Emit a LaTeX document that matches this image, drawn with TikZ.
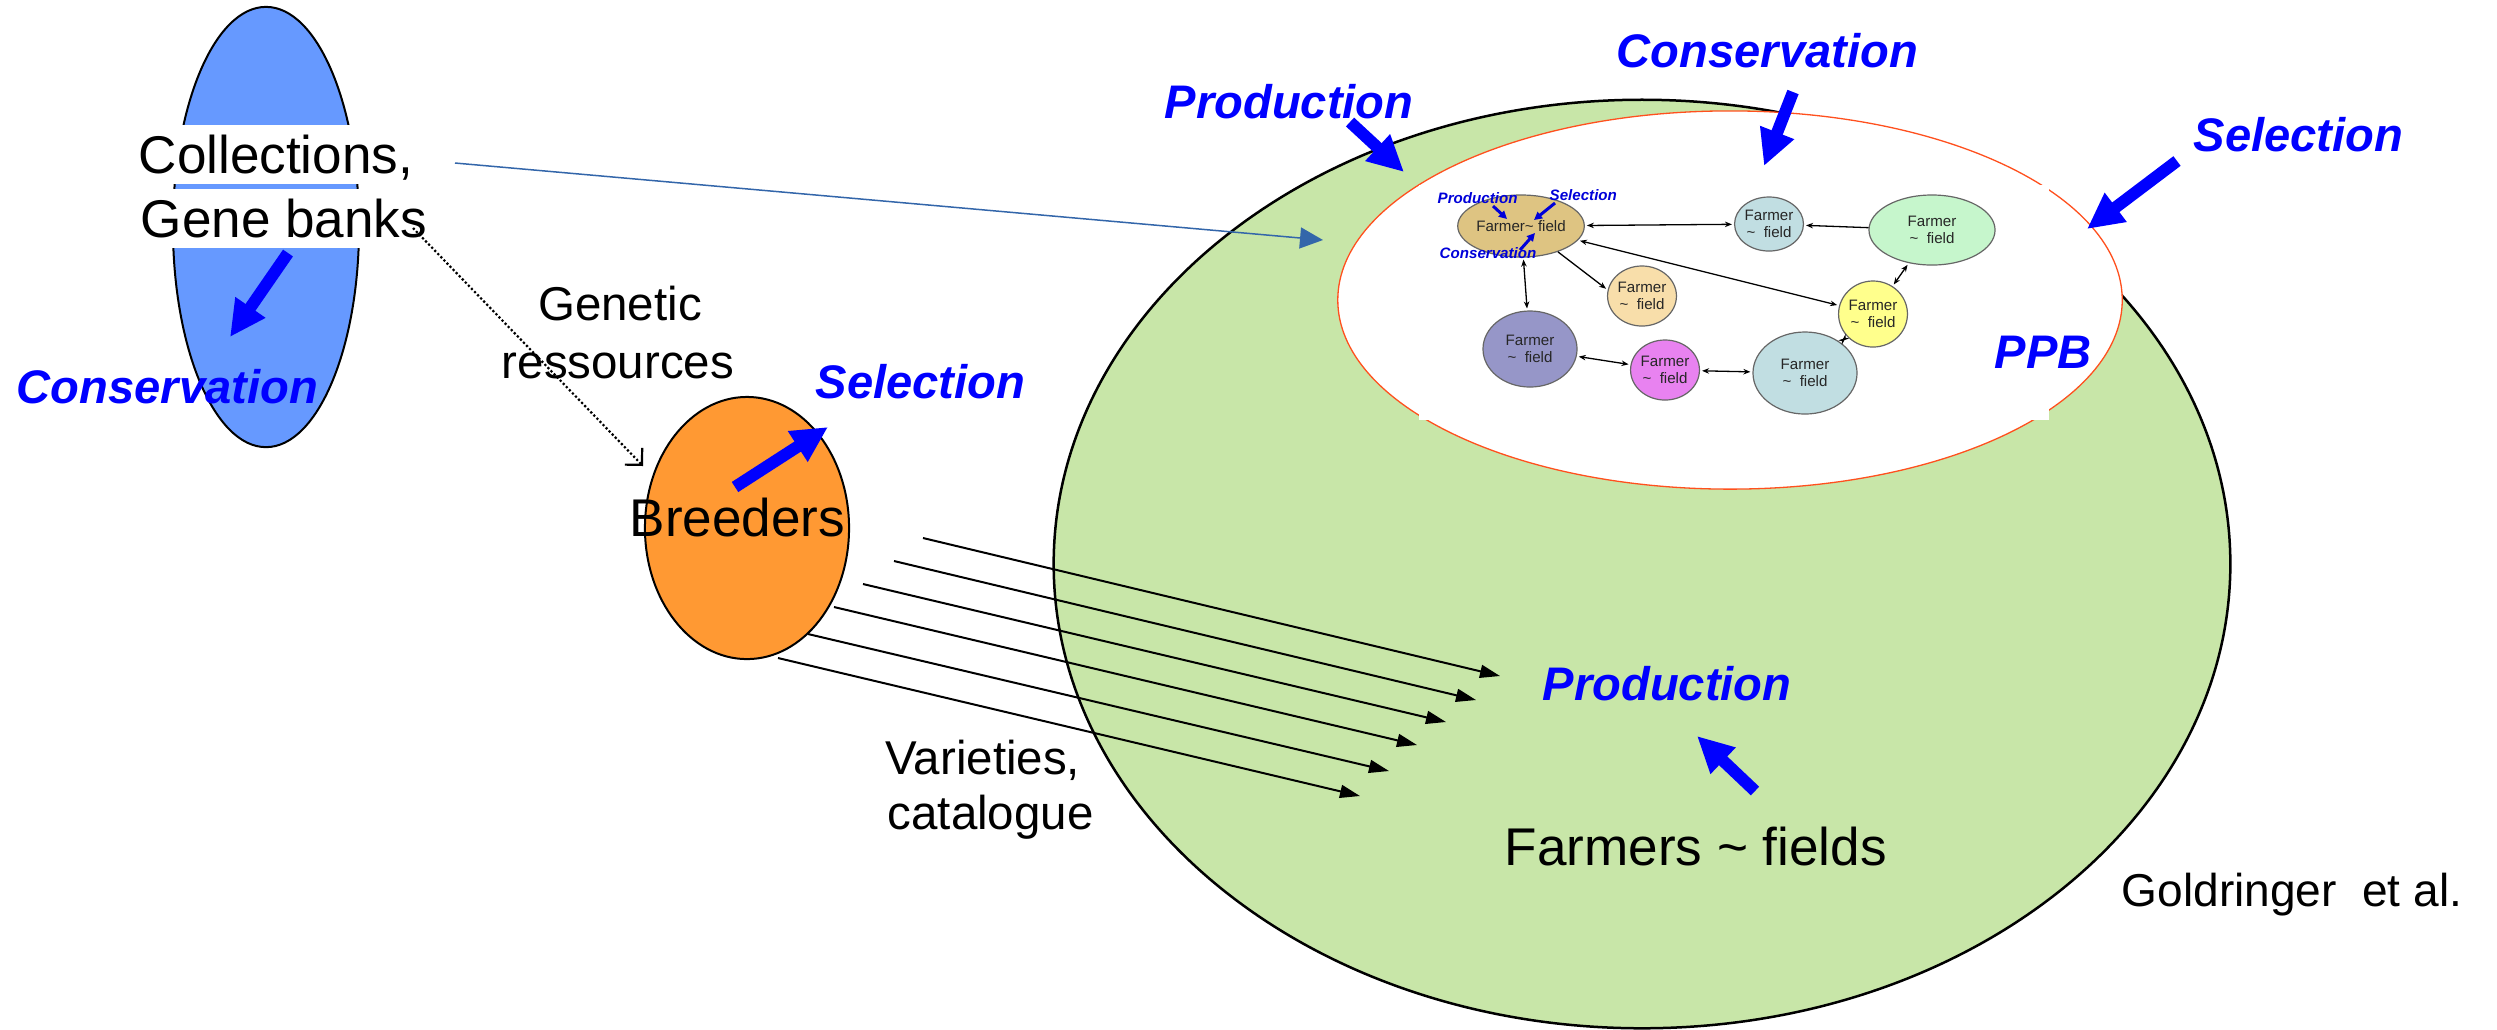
\documentclass[tikz,border=0pt]{standalone}
\usepackage{fontspec}
\setmainfont{Liberation Sans}
\usetikzlibrary{arrows.meta,shapes.geometric}

\definecolor{bankblue}{RGB}{102,153,255}
\definecolor{breedorange}{RGB}{255,153,51}
\definecolor{fieldgreen}{RGB}{200,230,168}
\definecolor{ppbred}{RGB}{255,80,30}
\definecolor{linkblue}{RGB}{51,102,170}
\definecolor{labelblue}{RGB}{0,0,255}
\definecolor{nodetan}{RGB}{222,196,130}
\definecolor{nodeice}{RGB}{193,222,226}
\definecolor{nodemint}{RGB}{198,246,204}
\definecolor{nodepeach}{RGB}{248,222,170}
\definecolor{nodeyellow}{RGB}{255,255,140}
\definecolor{nodeslate}{RGB}{150,150,200}
\definecolor{nodepink}{RGB}{232,130,240}

\tikzset{
  blob/.style={ellipse, inner sep=0pt, draw=black, line width=0.02cm},
  bigtext/.style={font=\fontsize{15.1}{18}\selectfont, inner sep=0pt, anchor=base west},
  midtext/.style={font=\fontsize{13.5}{16.8}\selectfont, inner sep=0pt},
  role/.style={font=\fontsize{13.4}{16}\selectfont\bfseries\itshape, text=labelblue, inner sep=0pt, anchor=base west},
  smallrole/.style={font=\fontsize{4.3}{5}\selectfont\bfseries\itshape, text=labelblue!85!black, inner sep=0pt, anchor=base west},
  fatarrow/.style={draw=labelblue, line width=0.12cm, -{Triangle[length=0.36cm, width=0.34cm]}},
  tinyarrow/.style={draw=labelblue!85!black, line width=0.03cm, -{Triangle[length=0.08cm, width=0.08cm]}},
  farmer/.style={ellipse, draw=black!60, line width=0.012cm, inner sep=0pt,
    font=\fontsize{4.3}{4.9}\selectfont, text=black!85, align=center},
  netone/.style={line width=0.013cm, shorten >=0.02cm, -{Stealth[length=0.07cm, width=0.055cm]}},
  nettwo/.style={line width=0.013cm, shorten >=0.02cm, shorten <=0.02cm,
    {Stealth[length=0.07cm, width=0.055cm]}-{Stealth[length=0.07cm, width=0.055cm]}},
  release/.style={line width=0.02cm, -{Triangle[length=0.2cm, width=0.13cm]}},
}

\begin{document}
\begin{tikzpicture}[x=0.01cm, y=-0.01cm]
  \fill[white] (0,0) rectangle (2497,1029);
  \useasboundingbox (0,0) rectangle (2497,1029);

  % farmers' fields and the PPB network
  \node[blob, fill=fieldgreen, line width=0.025cm, minimum width=11.76cm, minimum height=9.28cm] (fields) at (1642,564) {};
  \node[ellipse, inner sep=0pt, fill=white, draw=ppbred, line width=0.013cm, minimum width=7.84cm, minimum height=3.78cm] (ppb) at (1730,300) {};
  \fill[white] (1419,185) rectangle (2049,420);

  \node[farmer, fill=nodetan, minimum width=1.16cm, minimum height=0.62cm] (hub) at (1521,226) {Farmer\textasciitilde{} field};
  \node[farmer, fill=nodeice, minimum width=0.58cm, minimum height=0.54cm] (ice1) at (1769,224) {Farmer\\\textasciitilde\ \ field};
  \node[farmer, fill=nodemint, minimum width=1.26cm, minimum height=0.70cm] (mint) at (1932,230) {Farmer\\\textasciitilde\ \ field};
  \node[farmer, fill=nodepeach, minimum width=0.58cm, minimum height=0.60cm] (peach) at (1642,296) {Farmer\\\textasciitilde\ \ field};
  \node[farmer, fill=nodeyellow, minimum width=0.60cm, minimum height=0.66cm] (yellow) at (1873,314) {Farmer\\\textasciitilde\ \ field};
  \node[farmer, fill=nodeslate, minimum width=0.94cm, minimum height=0.76cm] (slate) at (1530,349) {Farmer\\\textasciitilde\ \ field};
  \node[farmer, fill=nodepink, minimum width=0.62cm, minimum height=0.60cm] (pink) at (1665,370) {Farmer\\\textasciitilde\ \ field};
  \node[farmer, fill=nodeice, minimum width=1.04cm, minimum height=0.82cm] (ice2) at (1805,373) {Farmer\\\textasciitilde\ \ field};

  \draw[nettwo] (hub) -- (ice1);
  \draw[netone] (mint) -- (ice1);
  \draw[nettwo] (hub) -- (yellow);
  \draw[netone] (hub.-35) -- (peach.170);
  \draw[nettwo] (hub) -- (slate);
  \draw[nettwo] (slate) -- (pink);
  \draw[nettwo] (pink) -- (ice2);
  \draw[nettwo] (ice2) -- (yellow);
  \draw[nettwo] (yellow) -- (mint);

  \node[smallrole] (hubprod) at (1437,203) {Production};
  \node[smallrole] (hubsel) at (1549,200) {Selection};
  \node[smallrole] (hubcons) at (1439,258) {Conservation};
  \coordinate (hpa) at (1493,206); \coordinate (hpb) at (1507,219);
  \coordinate (hsa) at (1555,203); \coordinate (hsb) at (1534,220);
  \coordinate (hca) at (1520,250); \coordinate (hcb) at (1535,233);
  \draw[tinyarrow] (hpa) -- (hpb);
  \draw[tinyarrow] (hsa) -- (hsb);
  \draw[tinyarrow] (hca) -- (hcb);

  % gene banks and breeders
  \node[blob, fill=bankblue, minimum width=1.86cm, minimum height=4.40cm] (bank) at (266,227) {};
  \node[blob, fill=breedorange, minimum width=2.04cm, minimum height=2.62cm] (breed) at (747,528) {};

  \node[bigtext, fill=white, text height=0.48cm, text depth=0.11cm] (coll1) at (138,173) {Collections,};
  \node[bigtext, fill=white, text height=0.48cm, text depth=0.11cm] (coll2) at (140,237) {Gene banks};

  % flows
  \coordinate (linka) at (455,163);
  \coordinate (linkb) at (1323,240);
  \draw[draw=linkblue, line width=0.015cm, -{Triangle[length=0.23cm, width=0.21cm]}] (linka) -- (linkb);

  \coordinate (gena) at (413,228);
  \coordinate (genb) at (643,466);
  \draw[line width=0.022cm, dash pattern=on 0.022cm off 0.022cm, -{Straight Barb[length=0.12cm, width=0.24cm]}] (gena) -- (genb);

  \foreach \i/\sx/\sy/\ex/\ey in {1/923/538/1500/676, 2/894/561/1476/700, 3/863/584/1446/722,
                                   4/834/607/1417/745, 5/808/634/1389/771, 6/778/658/1360/796} {
    \coordinate (vs\i) at (\sx,\sy);
    \coordinate (ve\i) at (\ex,\ey);
    \draw[release] (vs\i) -- (ve\i);
  }

  % activity arrows
  \coordinate (cla) at (288,253);  \coordinate (clb) at (230,337);
  \coordinate (sba) at (735,487);  \coordinate (sbb) at (828,427);
  \coordinate (pta) at (1350,122); \coordinate (ptb) at (1404,172);
  \coordinate (cta) at (1793,92);  \coordinate (ctb) at (1764,166);
  \coordinate (sra) at (2177,161); \coordinate (srb) at (2087,229);
  \coordinate (pba) at (1755,791); \coordinate (pbb) at (1697,736);
  \draw[fatarrow] (cla) -- (clb);
  \draw[fatarrow] (sba) -- (sbb);
  \draw[fatarrow] (pta) -- (ptb);
  \draw[fatarrow] (cta) -- (ctb);
  \draw[fatarrow] (sra) -- (srb);
  \draw[fatarrow] (pba) -- (pbb);

  % labels
  \node[role] (consL) at (16,403) {Conservation};
  \node[role] (selB) at (815,398) {Selection};
  \node[role] (prodT) at (1164,118) {Production};
  \node[role] (consT) at (1616,67) {Conservation};
  \node[role] (selR) at (2193,151) {Selection};
  \node[role] (ppbtag) at (1994,368) {PPB};
  \node[role] (prodB) at (1542,700) {Production};

  \node[midtext, anchor=base] (gen1) at (620,320) {Genetic};
  \node[midtext, anchor=base] (gen2) at (618,378) {ressources};
  \node[bigtext] (breeders) at (629,536) {Breeders};
  \node[midtext, anchor=base west] (var1) at (885,774) {Varieties,};
  \node[midtext, anchor=base west] (var2) at (887,829) {catalogue};
  \node[bigtext] (farmers) at (1504,865) {Farmers \textasciitilde{} fields};
  \node[font=\fontsize{13.1}{16}\selectfont, inner sep=0pt, anchor=base west] (credit) at (2121,906) {Goldringer\ \ et al.};
\end{tikzpicture}
\end{document}
